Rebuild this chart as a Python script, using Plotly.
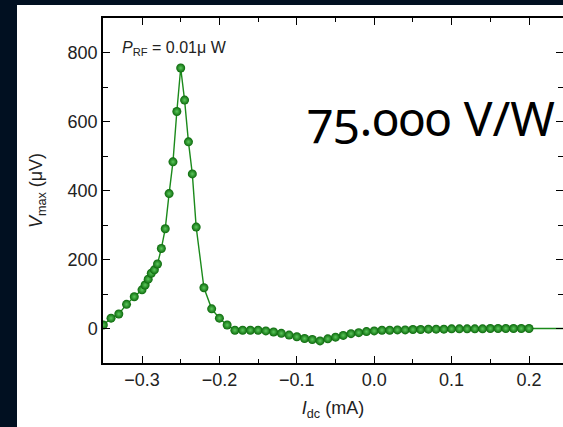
import plotly.graph_objects as go

# DC bias current (mA) and maximum rectified voltage (uV)
i_dc = [
    -0.35, -0.34, -0.33, -0.32, -0.31, -0.30, -0.296, -0.292, -0.288, -0.284,
    -0.28, -0.275, -0.27, -0.265, -0.26, -0.255, -0.25, -0.245, -0.24, -0.235,
    -0.23, -0.22, -0.21, -0.20, -0.19, -0.18, -0.17, -0.16, -0.15, -0.14,
    -0.13, -0.12, -0.11, -0.10, -0.09, -0.08, -0.07, -0.06, -0.05, -0.04,
    -0.03, -0.02, -0.01, 0.00, 0.01, 0.02, 0.03, 0.04, 0.05, 0.06,
    0.07, 0.08, 0.09, 0.10, 0.11, 0.12, 0.13, 0.14, 0.15, 0.16,
    0.17, 0.18, 0.19, 0.20,
]
v_max = [
    10, 30, 42, 70, 92, 112, 126, 143, 160, 170,
    187, 232, 289, 391, 483, 629, 755, 662, 541, 448,
    294, 118, 57, 30, 10, -5, -5, -5, -5, -7,
    -10, -14, -19, -24, -29, -32, -36, -30, -25, -20,
    -15, -12, -9, -7, -5, -5, -4, -4, -3, -3,
    -2, -2, -2, -1, -1, -1, -1, -1, 0, 0,
    0, 0, 0, 0,
]
# continuation of the trace past the last measured bias point
tail_x = [0.20, 0.26]
tail_y = [0, 0]

x_ticks = [-0.3, -0.2, -0.1, 0.0, 0.1, 0.2]
y_ticks = [0, 200, 400, 600, 800]

GREEN = "#1b8a1b"
NAVY = "#011021"
FONT = "Liberation Sans, Arial, sans-serif"
TEXT = "#222"

fig = go.Figure()
fig.add_trace(go.Scatter(
    x=tail_x, y=tail_y, mode="lines",
    line=dict(color=GREEN, width=1.4), hoverinfo="skip", showlegend=False,
))
fig.add_trace(go.Scatter(
    x=i_dc, y=v_max, mode="lines+markers",
    line=dict(color=GREEN, width=1.4),
    marker=dict(size=9, color="#0a680a",
                gradient=dict(type="radial", color="#5cc85c"),
                line=dict(width=0)),
    showlegend=False,
))
# right-hand tick marks (frame edge sits just outside the view)
fig.add_trace(go.Scatter(
    x=[], y=[], yaxis="y2", showlegend=False, hoverinfo="skip",
))

tick_common = dict(ticks="inside", tickwidth=1.3, tickcolor="black",
                   showgrid=False, zeroline=False,
                   tickfont=dict(family=FONT, size=18, color=TEXT))

fig.update_layout(
    xaxis=dict(
        range=[-0.3504, 0.2439], tickvals=x_ticks, tickformat=".1f",
        showline=True, linecolor="black", linewidth=1.5, mirror="ticks",
        ticklen=7,
        minor=dict(dtick=0.05, tick0=0, ticks="inside", ticklen=4,
                   tickwidth=1.3, tickcolor="black"),
        title=dict(text="<i>I</i><sub>dc</sub> (mA)", standoff=12,
                   font=dict(family=FONT, size=18, color=TEXT)),
        **tick_common,
    ),
    yaxis=dict(
        range=[-100, 900], tickvals=y_ticks,
        showline=True, linecolor="black", linewidth=1.5, mirror=False,
        ticklen=7,
        minor=dict(dtick=100, tick0=0, ticks="inside", ticklen=5,
                   tickwidth=1.3, tickcolor="black"),
        title=dict(text="<i>V</i><sub>max</sub> (μV)", standoff=20,
                   font=dict(family=FONT, size=18, color=TEXT)),
        **tick_common,
    ),
    yaxis2=dict(
        overlaying="y", side="right", range=[-100, 900], tickvals=y_ticks,
        showline=False, showticklabels=False, ticklen=7,
        minor=dict(dtick=100, tick0=0, ticks="inside", ticklen=5,
                   tickwidth=1.3, tickcolor="black"),
        **tick_common,
    ),
)

# white panel behind the chart
fig.add_shape(type="rect", xref="paper", yref="paper",
              x0=(17 - 103) / 460, x1=1.2, y0=-0.3, y1=1 + (18 - 5) / 345,
              fillcolor="white", line=dict(width=0), layer="below")

fig.add_annotation(
    x=-0.329, y=812, xref="x", yref="y", xanchor="left", yanchor="middle",
    text="<i>P</i><sub>RF</sub> = 0.01μ W", showarrow=False,
    font=dict(family=FONT, size=16, color=TEXT),
)
fig.add_annotation(
    x=-0.089, y=612, xref="x", yref="y", xanchor="left", yanchor="middle",
    text="<span style='font-variant-numeric: oldstyle-nums'>75.000</span> V/W",
    showarrow=False,
    font=dict(family="Noto Sans", size=48, color="black"),
)

fig.update_layout(
    width=563, height=427,
    margin=dict(l=103, r=0, t=18, b=64),
    paper_bgcolor=NAVY, plot_bgcolor="white",
)

fig.write_html("out.html")
